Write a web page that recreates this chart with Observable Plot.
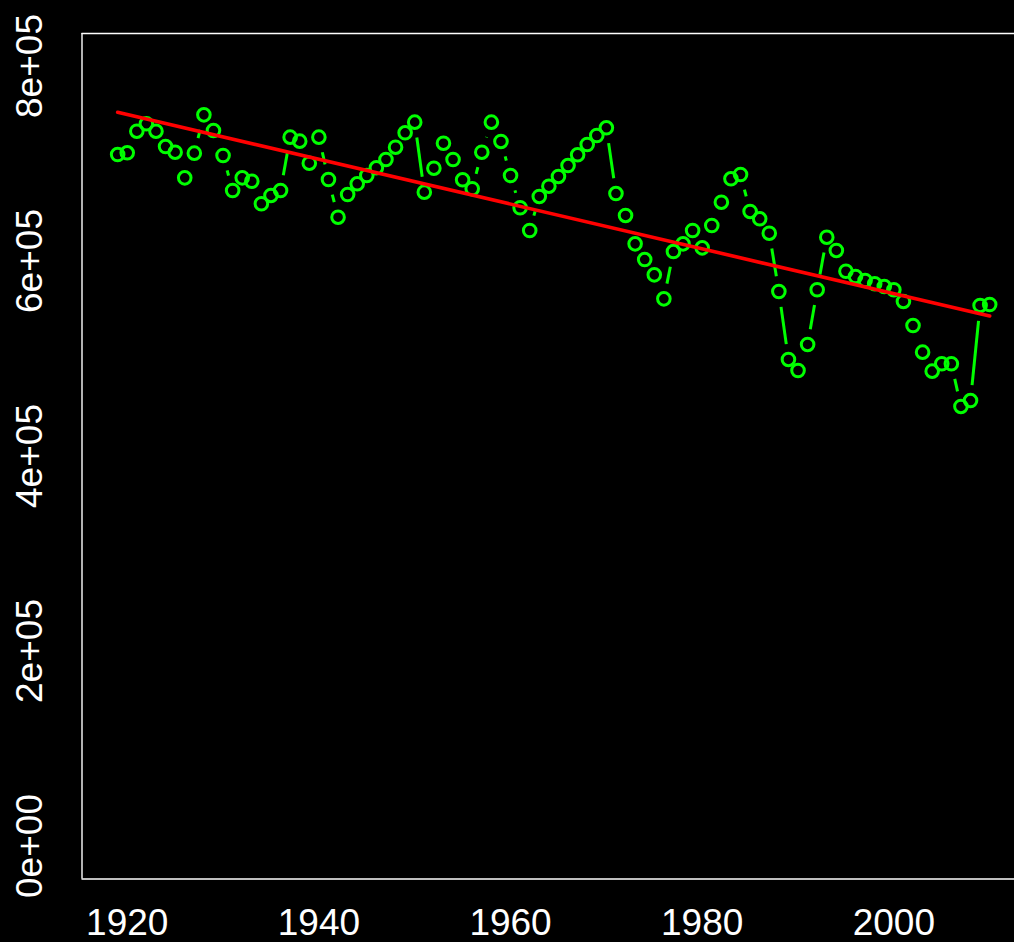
<!DOCTYPE html>
<html><head><meta charset="utf-8">
<script src="https://cdn.jsdelivr.net/npm/d3@7"></script>
<script src="https://cdn.jsdelivr.net/npm/@observablehq/plot@0.6"></script>
<style>html,body{margin:0;padding:0;background:#000;overflow:hidden}</style>
</head><body><div id="chart"></div>
<script>
const years = [1919,1920,1921,1922,1923,1924,1925,1926,1927,1928,1929,1930,1931,1932,1933,1934,1935,1936,1937,1938,1939,
  1940,1941,1942,1943,1944,1945,1946,1947,1948,1949,1950,1951,1952,1953,1954,1955,1956,1957,1958,1959,
  1960,1961,1962,1963,1964,1965,1966,1967,1968,1969,1970,1971,1972,1973,1974,1975,1976,1977,1978,1979,
  1980,1981,1982,1983,1984,1985,1986,1987,1988,1989,1990,1991,1992,1993,1994,1995,1996,1997,1998,1999,
  2000,2001,2002,2003,2004,2005,2006,2007,2008,2009,2010];
const values = [709200,711000,733100,740700,733100,717400,711600,685300,710600,749900,733800,708200,672300,685300,681800,658700,667200,672300,727000,722900,700300,
  727000,683600,644900,668200,679200,687700,695600,704100,716700,731500,742400,670600,695200,720800,704100,683300,674100,711600,742400,722600,
  687700,654600,631300,666200,676700,686700,697900,708900,719500,728700,736600,669200,646700,617600,601500,585800,561200,609700,617600,631300,
  613500,636400,660300,684300,688700,650800,643300,628500,568700,499000,487700,514400,570500,624400,610800,589500,584100,580000,576600,573800,
  570500,558500,533800,506500,487000,494600,494600,450800,456900,554400,555400];
const xTicks = [1920,1940,1960,1980,2000];
const yTicks = [0,200000,400000,600000,800000];
const yTickLabels = ["0e+00","2e+05","4e+05","6e+05","8e+05"];

const W = 1014, H = 942, mL = 81.5, mR = 0, mT = 33, mB = 63.5;
const xDomain = [1915.28, 2012.59];
const yDomain = [-33846, 833333];
const font = "'Liberation Sans', Arial, Helvetica, sans-serif";

const data = years.map((y, i) => ({year: y, value: values[i]}));

// type="b" style: connecting segments with gaps around each point
const kx = (W - mL - mR) / (xDomain[1] - xDomain[0]);
const ky = (H - mT - mB) / (yDomain[1] - yDomain[0]);
const gap = 15.5;
const segs = [];
for (let i = 0; i < data.length - 1; i++) {
  const a = data[i], b = data[i + 1];
  const d = Math.hypot((b.year - a.year) * kx, (b.value - a.value) * ky);
  if (d > 2 * gap) {
    const t = gap / d;
    segs.push({
      x1: a.year + (b.year - a.year) * t, y1: a.value + (b.value - a.value) * t,
      x2: b.year - (b.year - a.year) * t, y2: b.value - (b.value - a.value) * t
    });
  }
}

const chart = Plot.plot({
  width: W, height: H,
  marginLeft: mL, marginRight: mR, marginTop: mT, marginBottom: mB,
  x: {domain: xDomain, axis: null},
  y: {domain: yDomain, axis: null},
  style: {background: "#000", color: "#fff", fontFamily: font, fontSize: "37px", overflow: "visible"},
  marks: [
    Plot.ruleY([yDomain[0], yDomain[1]], {stroke: "#fff", strokeWidth: 1.4}),
    Plot.ruleX([xDomain[0]], {stroke: "#fff", strokeWidth: 1.4}),
    Plot.link(segs, {x1: "x1", y1: "y1", x2: "x2", y2: "y2", stroke: "#00ff00", strokeWidth: 3}),
    Plot.dot(data, {x: "year", y: "value", r: 6.3, stroke: "#00ff00", strokeWidth: 3, fill: "none"}),
    Plot.linearRegressionY(data, {x: "year", y: "value", stroke: "#ff0000", strokeWidth: 3.6, ci: 0}),
    Plot.text(xTicks, {x: d => d, text: d => String(d), frameAnchor: "bottom", dy: 55.5, lineAnchor: "bottom",
      fill: "#fff", fontSize: 37, fontFamily: font}),
    Plot.text(yTicks, {y: d => d, text: (d, i) => yTickLabels[i], frameAnchor: "left", dx: -39.8, rotate: -90,
      lineAnchor: "bottom", textAnchor: "middle", fill: "#fff", fontSize: 37, fontFamily: font})
  ]
});
document.getElementById("chart").appendChild(chart);
</script>
</body></html>
